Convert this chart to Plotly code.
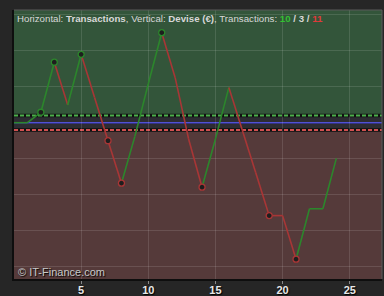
import plotly.graph_objects as go

# ---- data ----
transactions = list(range(0, 25))
balance = [0, 0, 29, 168, 49, 190, 70, -50, -168, -38, 108, 250, 125, -45, -179,
           -45, 98, -21, -139, -258, -258, -379, -239, -239, -99]
upper_threshold = 20
lower_threshold = -20
x_ticks = [5, 10, 15, 20, 25]
counts = {"up": 10, "flat": 3, "down": 11}

GREEN = "#2c862c"
RED = "#a83636"

fig = go.Figure()

# segments colored by direction
prev = GREEN
for i in range(len(balance) - 1):
    d = balance[i + 1] - balance[i]
    col = GREEN if d > 0 else (RED if d < 0 else prev)
    prev = col
    fig.add_trace(go.Scatter(x=transactions[i:i + 2], y=balance[i:i + 2], mode="lines",
                             line=dict(color=col, width=1.6), showlegend=False,
                             hoverinfo="skip"))

# record highs / lows markers
mx, mn = balance[0], balance[0]
hx, hy, lx, ly = [], [], [], []
for xv, yv in zip(transactions[1:], balance[1:]):
    if yv > mx:
        mx = yv
        hx.append(xv); hy.append(yv)
    if yv < mn:
        mn = yv
        lx.append(xv); ly.append(yv)
fig.add_trace(go.Scatter(x=hx, y=hy, mode="markers", showlegend=False,
                         marker=dict(size=6, color="#1e1e1e", line=dict(color=GREEN, width=1.3))))
fig.add_trace(go.Scatter(x=lx, y=ly, mode="markers", showlegend=False,
                         marker=dict(size=6, color="#1e1e1e", line=dict(color=RED, width=1.3))))

YMIN, YMAX = -434, 313
XMIN, XMAX = 0, 27.4

shapes = [
    dict(type="rect", xref="paper", yref="y", x0=0, x1=1, y0=upper_threshold, y1=YMAX,
         fillcolor="#33553a", line_width=0, layer="below"),
    dict(type="rect", xref="paper", yref="y", x0=0, x1=1, y0=YMIN, y1=lower_threshold,
         fillcolor="#553a3a", line_width=0, layer="below"),
    dict(type="rect", xref="paper", yref="y", x0=0, x1=1, y0=lower_threshold, y1=upper_threshold,
         fillcolor="#2d2c33", line_width=0, layer="below"),
    dict(type="line", xref="paper", yref="y", x0=0, x1=1, y0=0, y1=0,
         line=dict(color="#3a3ad0", width=1.5), layer="between"),
    dict(type="line", xref="paper", yref="y", x0=0, x1=1, y0=upper_threshold, y1=upper_threshold,
         line=dict(color="#111111", width=3.5), layer="between"),
    dict(type="line", xref="paper", yref="y", x0=0, x1=1, y0=upper_threshold, y1=upper_threshold,
         line=dict(color="#4cb04c", width=2, dash="4px,2px"), layer="between"),
    dict(type="line", xref="paper", yref="y", x0=0, x1=1, y0=lower_threshold, y1=lower_threshold,
         line=dict(color="#111111", width=3.5), layer="between"),
    dict(type="line", xref="paper", yref="y", x0=0, x1=1, y0=lower_threshold, y1=lower_threshold,
         line=dict(color="#d05050", width=2, dash="4px,2px"), layer="between"),
    dict(type="line", xref="paper", yref="paper", x0=0, x1=1, y0=1, y1=1,
         line=dict(color="#5a5a5a", width=1)),
    dict(type="line", xref="paper", yref="paper", x0=1, x1=1, y0=0, y1=1,
         line=dict(color="#5a5a5a", width=1)),
]

title = ("Horizontal: <b>Transactions</b>, Vertical: <b>Devise (€)</b>, Transactions: "
         f"<b><span style='color:#33c033'>{counts['up']}</span> / {counts['flat']} / "
         f"<span style='color:#e03a3a'>{counts['down']}</span></b>")

fig.update_layout(
    width=384, height=296,
    margin=dict(l=14, r=2, t=10, b=17, autoexpand=False),
    paper_bgcolor="#262626", plot_bgcolor="#2d2c33",
    shapes=shapes,
    annotations=[
        dict(text=title, xref="paper", yref="paper", x=0.004, y=0.997, xanchor="left",
             yanchor="top", showarrow=False,
             font=dict(family="Liberation Sans, Arial", size=9.7, color="#d8d8d8")),
        dict(text="© IT-Finance.com", xref="paper", yref="paper", x=0.005, y=-0.005,
             xanchor="left", yanchor="bottom", showarrow=False,
             font=dict(family="Liberation Sans, Arial", size=11, color="#c8c8c8",
                       shadow="1px 1px 1px #000")),
    ],
    xaxis=dict(range=[XMIN, XMAX], tickvals=x_ticks,
               ticktext=[f"<b>{t}</b>" for t in x_ticks], automargin=False,
               showgrid=True, gridcolor="rgba(255,255,255,0.12)", gridwidth=1,
               zeroline=False, showline=True, linecolor="#0e0e0e", linewidth=1.5,
               ticks="outside", ticklen=3, tickcolor="#888888", ticklabelstandoff=-3,
               tickfont=dict(family="Liberation Sans, Arial", size=11, color="#e8e8e8",
                             shadow="1px 1px 1px #000")),
    yaxis=dict(range=[YMIN, YMAX], dtick=100, showticklabels=False, automargin=False,
               showgrid=True, gridcolor="rgba(255,255,255,0.12)", gridwidth=1,
               zeroline=False, showline=True, linecolor="#0e0e0e", linewidth=1.5),
)

fig.write_html("out.html")
